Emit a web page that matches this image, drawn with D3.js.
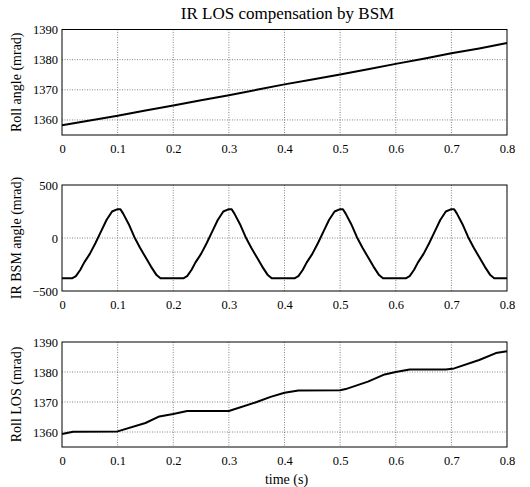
<!DOCTYPE html>
<html>
<head>
<meta charset="utf-8">
<script src="https://cdn.jsdelivr.net/npm/d3@7"></script>
<style>
  body { margin: 0; background: #fff; }
  .grid line { stroke: #666; stroke-dasharray: 1,1.5; stroke-width: 0.8; }
  .ejes path { display: none; }
  .ejes line { display: none; }
</style>
</head>
<body>
<div id="graf"></div>
<script>
// time (s) samples and values
const tRoll = [0, 0.05, 0.1, 0.15, 0.2, 0.25, 0.3, 0.35, 0.4, 0.45, 0.5, 0.55, 0.6, 0.65, 0.7, 0.75, 0.8]
const rollAngle = [1358.2, 1359.8, 1361.4, 1363.1, 1364.8, 1366.5, 1368.2, 1370.0, 1371.8, 1373.4, 1375.1, 1376.8, 1378.6, 1380.3, 1382.1, 1383.7, 1385.5]

const tBsm = [
  0, 0.018, 0.025, 0.033, 0.04, 0.05, 0.06, 0.07, 0.08, 0.09, 0.1, 0.105, 0.11, 0.12, 0.13, 0.14, 0.15, 0.16, 0.17, 0.177,
  0.2, 0.218, 0.225, 0.233, 0.24, 0.25, 0.26, 0.27, 0.28, 0.29, 0.3, 0.305, 0.31, 0.32, 0.33, 0.34, 0.35, 0.36, 0.37, 0.377,
  0.4, 0.418, 0.425, 0.433, 0.44, 0.45, 0.46, 0.47, 0.48, 0.49, 0.5, 0.505, 0.51, 0.52, 0.53, 0.54, 0.55, 0.56, 0.57, 0.577,
  0.6, 0.618, 0.625, 0.633, 0.64, 0.65, 0.66, 0.67, 0.68, 0.69, 0.7, 0.705, 0.71, 0.72, 0.73, 0.74, 0.75, 0.76, 0.77, 0.777,
  0.8
]
const bsmAngle = [
  -380, -380, -360, -300, -230, -150, -50, 60, 170, 250, 272, 272, 230, 130, 10, -90, -180, -270, -350, -380,
  -380, -380, -360, -300, -230, -150, -50, 60, 170, 250, 272, 272, 230, 130, 10, -90, -180, -270, -350, -380,
  -380, -380, -360, -300, -230, -150, -50, 60, 170, 250, 272, 272, 230, 130, 10, -90, -180, -270, -350, -380,
  -380, -380, -360, -300, -230, -150, -50, 60, 170, 250, 272, 272, 230, 130, 10, -90, -180, -270, -350, -380,
  -380
]

const tLos = [0, 0.02, 0.1, 0.15, 0.175, 0.2, 0.225, 0.3, 0.35, 0.375, 0.4, 0.425, 0.5, 0.51, 0.55, 0.58, 0.6, 0.625, 0.69, 0.705, 0.75, 0.78, 0.8]
const rollLos = [1359.3, 1360.1, 1360.2, 1363.0, 1365.2, 1366.0, 1367.0, 1367.0, 1370.0, 1371.7, 1373.1, 1373.8, 1373.9, 1374.3, 1376.8, 1379.2, 1380.0, 1380.8, 1380.8, 1381.2, 1384.0, 1386.3, 1386.9]

const xTicks = [0, 0.1, 0.2, 0.3, 0.4, 0.5, 0.6, 0.7, 0.8]

const panels = [
  { t: tRoll, v: rollAngle, dom: [1355, 1390], ticks: [1360, 1370, 1380, 1390], label: "Roll angle (mrad)", top: 29.5, bottom: 135 },
  { t: tBsm, v: bsmAngle, dom: [-500, 500], ticks: [-500, 0, 500], label: "IR BSM angle (mrad)", top: 185, bottom: 291 },
  { t: tLos, v: rollLos, dom: [1355, 1390], ticks: [1360, 1370, 1380, 1390], label: "Roll LOS (mrad)", top: 342, bottom: 447 }
]

const fuente = "'Liberation Serif', 'Times New Roman', serif"
const anchoTotal = 530
const altoTotal = 487
const left = 62, right = 507

const svg = d3.select("#graf")
  .append("svg")
  .attr("width", anchoTotal)
  .attr("height", altoTotal)

const x = d3.scaleLinear().domain([0, 0.8]).range([left, right])

svg.append("text")
  .attr("x", (left + right) / 2 + 3)
  .attr("y", 19)
  .attr("text-anchor", "middle")
  .style("font-family", fuente)
  .style("font-size", "17px")
  .text("IR LOS compensation by BSM")

panels.forEach((p) => {
  const y = d3.scaleLinear().domain(p.dom).range([p.bottom, p.top])
  const g = svg.append("g")

  // grid
  const grid = g.append("g").attr("class", "grid")
  grid.selectAll(".gx").data(xTicks.slice(1, -1)).enter().append("line")
    .attr("x1", (d) => x(d)).attr("x2", (d) => x(d))
    .attr("y1", p.top).attr("y2", p.bottom)
  grid.selectAll(".gy").data(p.ticks.filter((d) => d > p.dom[0] && d < p.dom[1])).enter().append("line")
    .attr("x1", left).attr("x2", right)
    .attr("y1", (d) => y(d)).attr("y2", (d) => y(d))

  // axes (labels only)
  g.append("g")
    .attr("class", "ejes")
    .attr("transform", `translate(0, ${p.bottom})`)
    .call(d3.axisBottom(x).tickValues(xTicks).tickSize(0).tickPadding(9).tickFormat(d3.format("")))
    .selectAll("text").style("font-size", "12.5px").style("font-family", fuente).attr("fill", "#000")
  g.append("g")
    .attr("class", "ejes")
    .attr("transform", `translate(${left}, 0)`)
    .call(d3.axisLeft(y).tickValues(p.ticks).tickSize(0).tickPadding(4).tickFormat(d3.format("d")))
    .selectAll("text").style("font-size", "12.5px").style("font-family", fuente).attr("fill", "#000")

  // line
  const line = d3.line().x((d, i) => x(p.t[i])).y((d) => y(d))
  g.append("path")
    .datum(p.v)
    .attr("d", line)
    .attr("fill", "none")
    .attr("stroke", "#000")
    .attr("stroke-width", 2)
    .attr("stroke-linejoin", "round")

  // box
  g.append("rect")
    .attr("x", left).attr("y", p.top)
    .attr("width", right - left).attr("height", p.bottom - p.top)
    .attr("fill", "none").attr("stroke", "#000").attr("stroke-width", 1)

  g.append("text")
    .attr("transform", `translate(21, ${(p.top + p.bottom) / 2}) rotate(-90)`)
    .attr("text-anchor", "middle")
    .style("font-family", fuente)
    .style("font-size", "14px")
    .text(p.label)
})

svg.append("text")
  .attr("x", (left + right) / 2 + 2)
  .attr("y", 484)
  .attr("text-anchor", "middle")
  .style("font-family", fuente)
  .style("font-size", "14px")
  .text("time (s)")
</script>
</body>
</html>
